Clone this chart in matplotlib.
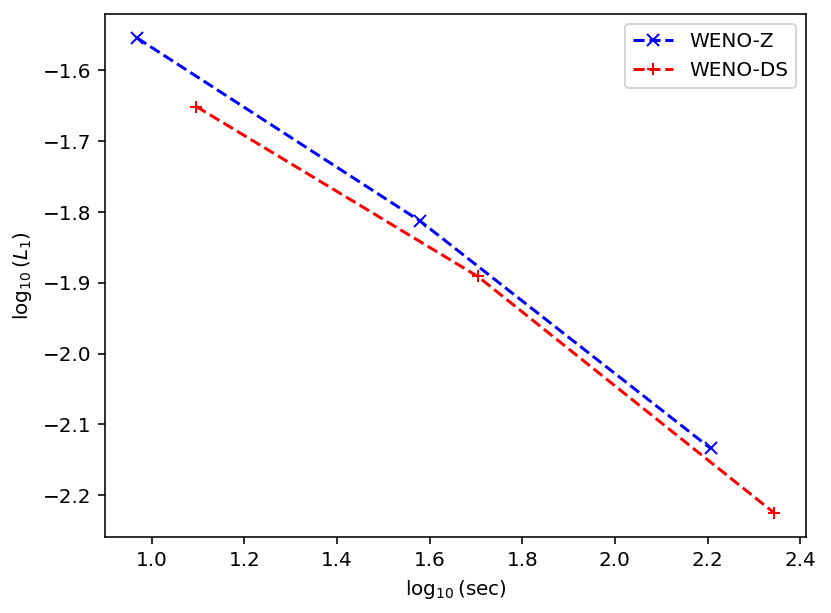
import numpy as np
import matplotlib
matplotlib.use("Agg")
import matplotlib.pyplot as plt

# log10 of run time vs log10 of L1 error
weno_z_t = [0.968, 1.580, 2.207]
weno_z_err = [-1.554, -1.813, -2.134]
weno_ds_t = [1.096, 1.704, 2.344]
weno_ds_err = [-1.651, -1.891, -2.225]

fig = plt.figure(figsize=(831 / 144, 613 / 144), dpi=144)
ax = fig.add_subplot(111)
fig.subplots_adjust(left=0.1264, right=0.970, top=0.977, bottom=0.1245)

ax.plot(weno_z_t, weno_z_err, 'bx--', label='WENO-Z')
ax.plot(weno_ds_t, weno_ds_err, 'r+--', label='WENO-DS')

ax.set_xlabel(r'$\log_{10}$(sec)')
ax.set_ylabel(r'$\log_{10}(L_1)$')
ax.legend(loc='upper right')

fig.savefig('out.png', dpi=144)
